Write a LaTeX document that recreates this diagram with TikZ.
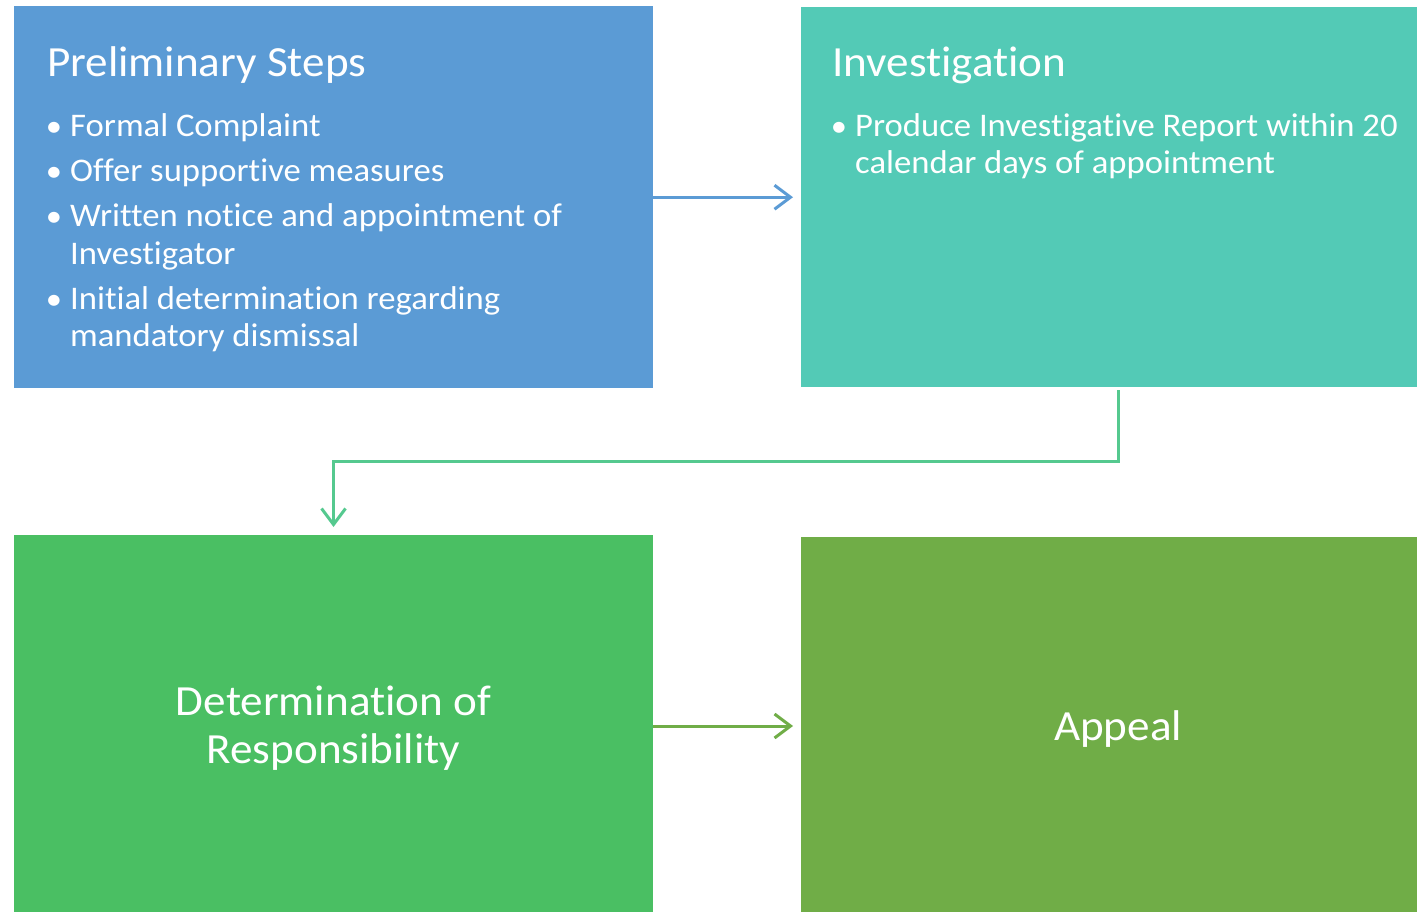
\documentclass[tikz,border=0pt]{standalone}
\usepackage{fontspec}
\setmainfont{Carlito}[FakeStretch=1.05, Ligatures={NoCommon}]
\usetikzlibrary{arrows.meta}
\definecolor{cblue}{HTML}{5B9BD5}
\definecolor{cteal}{HTML}{53CAB6}
\definecolor{cgreen}{HTML}{4ABF63}
\definecolor{colive}{HTML}{70AD47}
\definecolor{carrow}{HTML}{55C98F}
\tikzset{
  stagebox/.style={draw=none, inner sep=0pt, minimum width=639pt, anchor=north west},
  title/.style={anchor=base west, text=white, font=\fontsize{43}{50}\selectfont, inner sep=0pt},
  item/.style={anchor=base west, text=white, font=\fontsize{33}{38}\selectfont, inner sep=0pt},
  dot/.style={anchor=base, text=white, font=\fontsize{31}{38}\selectfont, inner sep=0pt},
  big/.style={anchor=base, text=white, font=\fontsize{43}{50}\selectfont, inner sep=0pt},
  conn/.style={line width=3pt, -{Straight Barb[length=16pt,width=24pt,line width=3pt]}},
}
\begin{document}
\begin{tikzpicture}[x=1pt,y=-1pt]
\useasboundingbox (0,0) rectangle (1417,912);
% boxes
\node[stagebox, fill=cblue, minimum height=382pt] (pre) at (14,6) {};
\node[stagebox, fill=cteal, minimum height=380pt] (inv) at (801,7) {};
\node[stagebox, fill=cgreen, minimum height=390pt] (det) at (14,535) {};
\node[stagebox, fill=colive, minimum height=390pt] (app) at (801,537) {};
% preliminary steps text
\node[title] (pret) at (47,76.5) {Preliminary Steps};
\node[dot] (b1) at (54,136.5) {•};
\node[item] (i1) at (70,136.5) {Formal Complaint};
\node[dot] (b2) at (54,181.5) {•};
\node[item] (i2) at (70,181.5) {Offer supportive measures};
\node[dot] (b3) at (54,226.5) {•};
\node[item] (i3a) at (70,226.5) {Written notice and appointment of};
\node[item] (i3b) at (70,264.5) {Investigator};
\node[dot] (b4) at (54,309.5) {•};
\node[item] (i4a) at (70,309.5) {Initial determination regarding};
\node[item] (i4b) at (70,346.5) {mandatory dismissal};
% investigation text
\node[title] (invt) at (832,76.5) {Investigation};
\node[dot] (b5) at (839,136.5) {•};
\node[item] (i5a) at (855,136.5) {Produce Investigative Report within 20};
\node[item] (i5b) at (855,173.5) {calendar days of appointment};
% determination
\node[big] (dt1) at (333.5,715) {Determination of};
\node[big] (dt2) at (333.5,763) {Responsibility};
% appeal
\node[big] (apt) at (1118,740) {Appeal};
% connectors
\draw[conn, cblue, shorten >=8pt] (pre.east) -- (inv.west);
\draw[conn, carrow, shorten <=3pt, shorten >=8pt] (inv.south -| 1118,0) -- (1118,461) -- (333.5,461) -- (det.north -| 333.5,0);
\draw[conn, colive, shorten >=8pt] (det.east |- 0,726) -- (app.west |- 0,726);
\end{tikzpicture}
\end{document}
